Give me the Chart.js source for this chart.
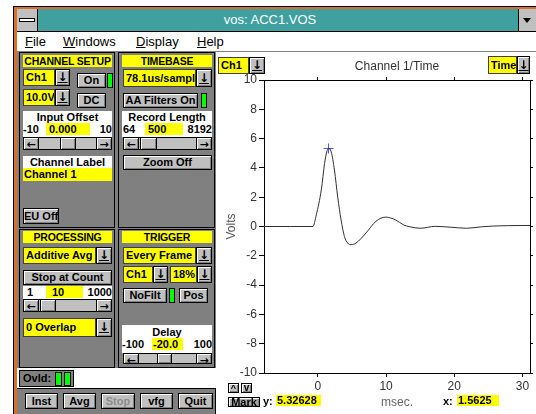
<!DOCTYPE html>
<html><head><meta charset="utf-8">
<script src="https://cdn.jsdelivr.net/npm/chart.js@4/dist/chart.umd.min.js"></script>
<style>
body{margin:0;width:536px;height:414px;overflow:hidden;background:#fff;position:relative;font-family:"Liberation Sans",Arial,sans-serif;}
.a{position:absolute;box-sizing:border-box;white-space:nowrap;overflow:hidden;}
.btn{background:#c0c0c0;border:1px solid #000;box-shadow:inset 1px 1px 0 #fff,inset -1px -1px 0 #808080;font:bold 11px "Liberation Sans","DejaVu Sans",sans-serif;text-align:center;color:#000;}
.yel{background:#ff0;border:1px solid #404040;font:bold 11px "Liberation Sans",sans-serif;padding-left:2px;color:#000;}
.hdr{background:#ff0;font:bold 11px "Liberation Sans",sans-serif;text-align:center;color:#000;}
.panel{background:#808080;border:1px solid #000;}
.wbox{background:#fff;font:bold 11px "Liberation Sans",sans-serif;color:#000;}
.txt{font:bold 11px "Liberation Sans",sans-serif;color:#000;}
.led{background:#00ff00;border:1px solid #000;}
.track{background:#c0c0c0;border:1px solid #000;}
.arr{font:bold 12px "DejaVu Sans",sans-serif;text-decoration:underline;}
.sa{font:bold 10px "DejaVu Sans",sans-serif;}
#cv{position:absolute;left:215px;top:52px;}
</style>
</head><body>
<div class="a" style="left:13px;top:6px;width:540px;height:420px;background:#d8702c;border:1px solid #000;"></div>
<div class="a" style="left:17px;top:9px;width:519px;height:405px;background:#fff;"></div>
<div class="a" style="left:17px;top:9px;width:519px;height:23px;background:#40a0a0;border-bottom:1px solid #000;"></div>
<div class="a" style="left:17px;top:9px;width:21px;height:23px;background:#c0c0c0;border-right:1px solid #000;border-bottom:1px solid #000;"></div>
<div class="a" style="left:19px;top:18px;width:16px;height:4px;background:#fff;border:1px solid #000;"></div>
<div class="a" style="left:17px;top:9px;width:506px;height:22px;line-height:22px;text-align:center;color:#fff;font-size:13px;">vos: ACC1.VOS</div>
<div class="a" style="left:518px;top:9px;width:18px;height:23px;background:#c0c0c0;border-left:1px solid #000;border-bottom:1px solid #000;"></div>
<div class="a" style="left:523px;top:18px;width:0;height:0;border-left:4px solid transparent;border-right:4px solid transparent;border-top:5px solid #000;"></div>
<div class="a" style="left:17px;top:32px;width:519px;height:20px;background:#fff;border-bottom:1px solid #808080;"></div>
<div class="a" style="left:25px;top:33px;height:18px;line-height:18px;font-size:13px;"><u>F</u>ile</div>
<div class="a" style="left:63px;top:33px;height:18px;line-height:18px;font-size:13px;"><u>W</u>indows</div>
<div class="a" style="left:136px;top:33px;height:18px;line-height:18px;font-size:13px;"><u>D</u>isplay</div>
<div class="a" style="left:197px;top:33px;height:18px;line-height:18px;font-size:13px;"><u>H</u>elp</div>
<div class="a" style="left:17px;top:52px;width:199px;height:316px;background:#808080;"></div>
<canvas id="cv" width="321" height="362"></canvas>
<script>
// ---- chart data ----
const timeMs = [-7.9, -4.0, -0.73, -0.23, 0.5, 0.98, 1.31, 1.5625, 1.95, 2.43, 2.91, 3.4, 3.89, 4.37, 4.86, 5.59, 7.04, 8.5, 9.96, 11.4, 12.6, 13.5, 15.0, 17.2, 19.5, 21.8, 24.0, 25.7, 28.0, 31.1];
const volts  = [0, 0, 0, 0.8, 2.5, 4.3, 5.1, 5.33, 5.1, 3.85, 2.0, 0.45, -0.68, -1.13, -1.24, -1.13, -0.45, 0.35, 0.64, 0.45, 0.1, -0.02, -0.12, 0.01, -0.05, -0.12, -0.02, 0.03, 0.06, 0.07];
const markerT = [1.5625];
const markerV = [5.32628];
const xTickValues = [0, 10, 20, 30];
const yTickValues = [-10, -8, -6, -4, -2, 0, 2, 4, 6, 8, 10];
const xMin = -7.9, xMax = 31.1, yMin = -10, yMax = 10;

// ---- UI widgets ----
function el(x,y,w,h,cls,txt,css){
  const d=document.createElement('div');
  d.className='a '+(cls||'');
  d.style.left=x+'px';d.style.top=y+'px';
  if(w!=null)d.style.width=w+'px';
  if(h!=null){d.style.height=h+'px';d.style.lineHeight=(h-2)+'px';}
  if(txt!=null)d.textContent=txt;
  if(css)d.style.cssText+=css;
  document.body.appendChild(d);return d;
}
function btn(x,y,w,h,t,css){return el(x,y,w,h,'btn',t,css);}
function dd(x,y,w,h,aw,t){el(x,y,w-aw,h,'yel',t);el(x+w-aw,y,aw,h,'btn arr','↓');}
function led(x,y,w,h){el(x,y,w,h,'led');}
function scroll(x,y,w,h,tx,tw){el(x,y,w,h,'track');btn(x,y,16,h,'←','font:bold 11px "DejaVu Sans"');btn(x+w-16,y,16,h,'→','font:bold 11px "DejaVu Sans"');btn(tx,y,tw,h,'');}
const H='line-height:12px;font-size:10.5px;letter-spacing:-0.2px';

// CHANNEL SETUP
el(19,52,96,176,'panel');
el(23,55,89,12,'hdr','CHANNEL SETUP',H);
dd(23,69,47,17,15,'Ch1');
btn(77,73,29,15,'On');led(107,73,6,15);
dd(23,89,47,17,15,'10.0V');
btn(77,93,29,15,'DC');
el(23,111,89,26,'wbox');
el(23,111,89,12,'txt','Input Offset','text-align:center;line-height:12px');
el(23,123,20,12,'txt','-10','line-height:12px');
el(46,123,44,12,'hdr','0.000','text-align:left;padding-left:3px;line-height:12px');
el(92,123,20,12,'txt','10','text-align:right;line-height:12px');
scroll(23,137,89,13,60,16);
el(23,156,89,12,'wbox','Channel Label','text-align:center;line-height:12px');
el(23,168,89,13,'hdr','Channel 1','text-align:left;line-height:13px;padding-left:1px');
btn(23,208,36,16,'EU Off');

// TIMEBASE
el(118,52,97,176,'panel');
el(122,55,90,12,'hdr','TIMEBASE',H);
dd(123,69,89,18,16,'78.1us/sampl');
btn(123,93,75,15,'AA Filters On');led(201,93,6,15);
el(122,111,90,26,'wbox');
el(122,111,90,12,'txt','Record Length','text-align:center;line-height:12px');
el(123,123,20,12,'txt','64','line-height:12px');
el(145,123,38,12,'hdr','500','text-align:left;padding-left:3px;line-height:12px');
el(184,123,28,12,'txt','8192','text-align:right;line-height:12px');
scroll(123,137,89,13,140,17);
btn(123,155,89,15,'Zoom Off');

// PROCESSING
el(19,229,96,139,'panel');
el(23,231,89,12,'hdr','PROCESSING',H);
dd(23,247,89,17,16,'Additive Avg');
btn(23,270,89,15,'Stop at Count');
el(23,286,89,13,'wbox');
el(27,286,10,13,'txt','1','line-height:13px');
el(46,286,37,12,'hdr','10','text-align:left;padding-left:6px;line-height:13px');
el(84,286,28,13,'txt','1000','text-align:right;line-height:13px');
scroll(23,299,89,13,40,16);
dd(23,318,89,19,16,'0 Overlap');

// TRIGGER
el(118,229,97,139,'panel');
el(122,231,90,12,'hdr','TRIGGER',H);
dd(123,247,89,17,16,'Every Frame');
dd(123,266,45,17,15,'Ch1');
dd(170,266,42,17,15,'18%');
btn(123,288,44,15,'NoFilt');led(169,288,6,15);btn(179,288,29,15,'Pos');
el(122,325,90,28,'wbox');
el(122,326,90,12,'txt','Delay','text-align:center;line-height:12px');
el(122,338,26,12,'txt','-100','line-height:12px');
el(152,338,31,12,'hdr','-20.0','text-align:left;padding-left:1px;line-height:12px');
el(186,338,26,12,'txt','100','text-align:right;line-height:12px');
scroll(123,353,89,11,157,15);

// Ovld + bottom bar
el(19,370,55,17,'panel');
el(23,370,34,17,'txt','Ovld:','line-height:17px');
led(55,372,7,14);led(64,372,7,14);
el(17,388,199,26,'panel','', 'border-left:none;border-bottom:none');
btn(25,393,33,16,'Inst');
btn(63,393,33,16,'Avg');
btn(101,393,34,16,'Stop','color:#8c8c8c');
btn(140,393,33,16,'vfg');
btn(178,393,35,16,'Quit');

// chart-side widgets
dd(218,57,47,17,16,'Ch1');
dd(488,56,42,18,13,'Time');
btn(228,383,11,10,'^','font-size:9px;line-height:8px');
btn(241,383,11,10,'v','font-size:10px;line-height:7px');
btn(228,397,32,10,'Mark','line-height:8px;background:#a8a8a8');
el(263,395,14,12,'txt','y:','line-height:12px');
el(276,395,45,11,'hdr','5.32628','text-align:left;padding-left:1px;line-height:11px');
el(443,395,14,12,'txt','x:','line-height:12px');
el(457,395,42,11,'hdr','1.5625','text-align:left;padding-left:1px;line-height:11px');

// ---- chart ----
function fixTicks(vals){return s=>{s.ticks=vals.map(v=>({value:v}));};}
const gridOpt=(len)=>({drawOnChartArea:false,drawTicks:true,tickLength:len,tickColor:'#000',color:'#000'});
const bord={display:true,color:'#000',width:1};
const tickFont={family:'"Liberation Sans", Arial, sans-serif',size:12};
new Chart(document.getElementById('cv'),{
  type:'line',
  data:{datasets:[
    {data:timeMs.map((t,i)=>({x:t,y:volts[i]})),borderColor:'#303030',borderWidth:1,pointRadius:0,cubicInterpolationMode:'monotone',xAxisID:'x',yAxisID:'y'},
    {type:'scatter',data:markerT.map((t,i)=>({x:t,y:markerV[i]})),pointStyle:'cross',pointRadius:5,borderColor:'#5050ff',borderWidth:1,xAxisID:'x',yAxisID:'y'}
  ]},
  options:{
    responsive:false,animation:false,devicePixelRatio:1,
    layout:{padding:0},
    plugins:{legend:{display:false},tooltip:{enabled:false}},
    scales:{
      x:{type:'linear',position:'bottom',min:xMin,max:xMax,afterBuildTicks:fixTicks(xTickValues),afterFit:s=>{s.height=41;},
        grid:gridOpt(4),border:bord,
        ticks:{color:'#333',font:tickFont,padding:2,maxRotation:0,autoSkip:false},
        title:{display:true,text:'msec.',color:'#666',font:tickFont,padding:{top:0,bottom:4}}},
      x2:{type:'linear',position:'top',min:xMin,max:xMax,afterBuildTicks:fixTicks(xTickValues),afterFit:s=>{s.height=28;},
        grid:gridOpt(3),border:bord,ticks:{display:false},
        title:{display:true,text:'Channel 1/Time',color:'#333',font:tickFont,padding:{top:7,bottom:0}}},
      y:{type:'linear',position:'left',min:yMin,max:yMax,afterBuildTicks:fixTicks(yTickValues),afterFit:s=>{s.width=49;},
        grid:gridOpt(5),border:bord,
        ticks:{color:'#333',font:tickFont,padding:2},
        title:{display:true,text:'Volts',color:'#555',font:tickFont,padding:{top:9,bottom:0}}},
      y2:{type:'linear',position:'right',min:yMin,max:yMax,afterBuildTicks:fixTicks(yTickValues),afterFit:s=>{s.width=4;},
        grid:gridOpt(3),border:bord,ticks:{display:false}}
    }
  }
});
</script>
</body></html>
